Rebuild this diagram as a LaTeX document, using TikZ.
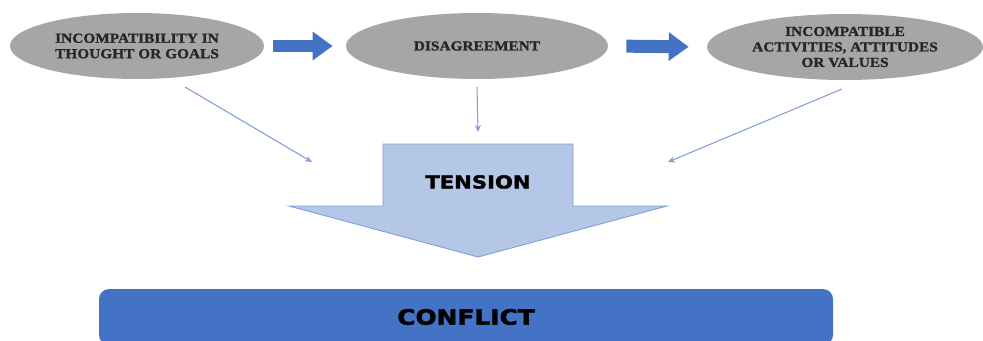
\documentclass[tikz,border=0pt]{standalone}
\usepackage{fontspec}
\usepackage{tikz}
\usetikzlibrary{shapes.geometric,arrows.meta}
\newfontfamily\ovalfont{Liberation Serif}[FakeStretch=1.12,FakeBold=1.2]
\newfontfamily\heavyfont{DejaVu Sans}[FakeStretch=1.18,FakeBold=2]
\definecolor{ovalgrey}{HTML}{A6A6A6}
\definecolor{blockblue}{HTML}{4472C4}
\definecolor{tensionfill}{HTML}{B4C7E7}
\definecolor{lineblue}{HTML}{7F9FD6}
\tikzstyle{ev}=[shape=ellipse,
                fill=ovalgrey,
                inner sep=0pt,
                minimum height=1.32cm,
                text=black!85,
                align=center,
                font=\ovalfont\bfseries\fontsize{7.8}{8.8}\selectfont]
\tikzstyle{ba}=[draw=blockblue,
                line width=0.26cm,
                -{Triangle[length=0.4cm,width=0.55cm]}]
\tikzstyle{la}=[color=lineblue,
                line width=0.6pt,
                -{Stealth[length=4pt,width=3.5pt]}]
\tikzstyle{cb}=[shape=rectangle,
                fill=blockblue,
                rounded corners=0.2cm]

\begin{document}
\begin{tikzpicture}[>=stealth,x=0.02cm,y=-0.02cm]
\useasboundingbox (0,0) rectangle (983,341);

% cause nodes (ellipses)
\node[ev,minimum width=5.08cm] (incomp) at (137,46) {INCOMPATIBILITY IN\\THOUGHT OR GOALS};
\node[ev,minimum width=5.24cm] (disagree) at (477,46) {DISAGREEMENT};
\node[ev,minimum width=5.52cm] (activity) at (845,47) {INCOMPATIBLE\\ACTIVITIES, ATTITUDES\\OR VALUES};

% block arrows between ellipses
\draw[ba,shorten <=0.18cm,shorten >=0.26cm] (incomp.east) -- (disagree.west);
\draw[ba,shorten <=0.36cm,shorten >=0.36cm] (disagree.east) -- (activity.west);

% tension arrow
\path[fill=tensionfill,draw=lineblue,line width=0.5pt]
     (383,144) -- (573,144) -- (573,206) -- (667,206) -- (478,257)
     -- (289,206) -- (383,206) -- cycle;
\node[font=\heavyfont\bfseries\fontsize{10.2}{12}\selectfont] (tension) at (478,182) {TENSION};

% end points of thin arrows
\coordinate (s1) at (185,87);
\coordinate (t1) at (312,162);
\coordinate (s2) at (477,87);
\coordinate (t2) at (478,132);
\coordinate (s3) at (842,89);
\coordinate (t3) at (668,162);

% thin arrows into tension
\draw[la] (s1) -- (t1);
\draw[la] (s2) -- (t2);
\draw[la] (s3) -- (t3);

% conflict box
\fill[cb] (99,289) rectangle (833,345);
\node[font=\heavyfont\bfseries\fontsize{12}{14}\selectfont] (conflict) at (466,317) {CONFLICT};

\end{tikzpicture}
\end{document}
